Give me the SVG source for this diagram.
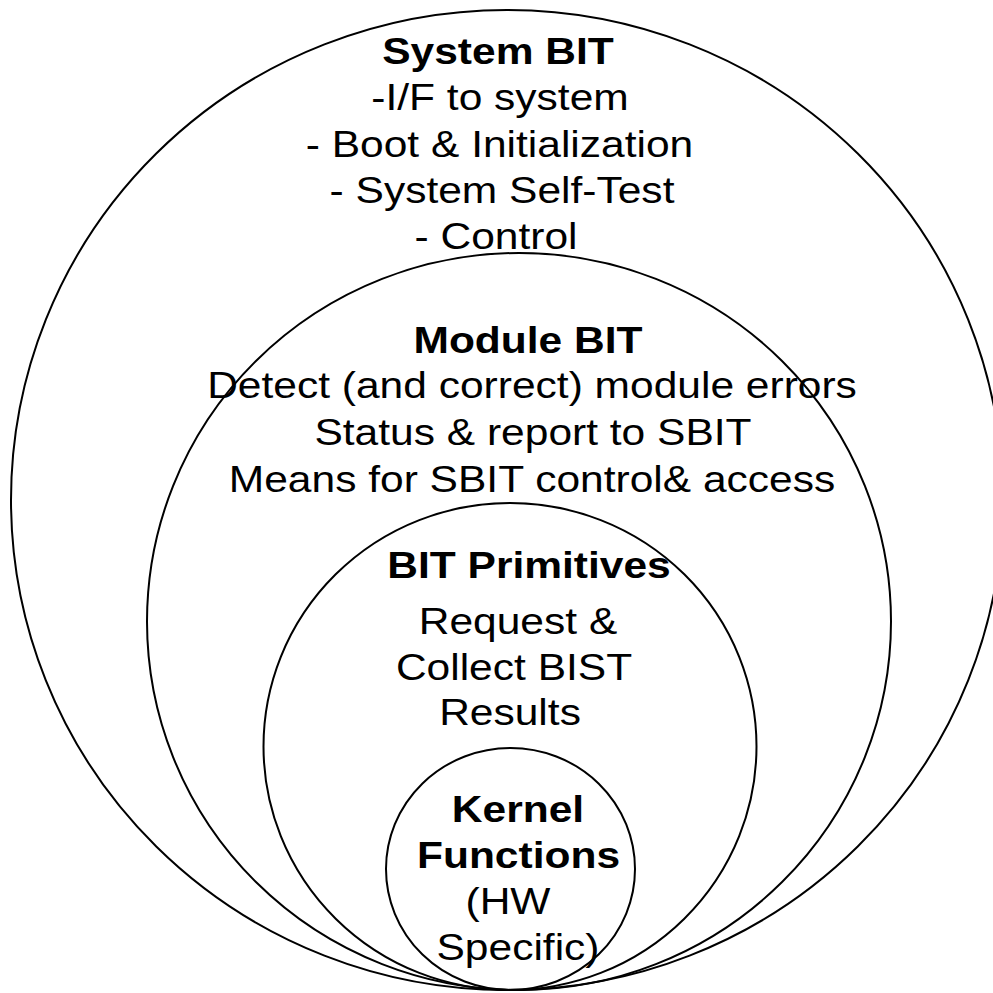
<svg xmlns="http://www.w3.org/2000/svg" width="993" height="993" viewBox="0 0 993 993">
  <style>
    .ring { fill: none; stroke: #000; stroke-width: 2; }
    .t { font-family: "Liberation Sans", Arial, sans-serif; font-size: 37.3px; fill: #000; text-anchor: middle; }
    .b { font-weight: bold; }
  </style>
  <rect width="993" height="993" fill="#fff"/>

  <!-- System BIT (outermost layer) -->
  <g id="system-bit">
    <ellipse class="ring" cx="507" cy="500" rx="496" ry="490"/>
    <g transform="translate(498 0) scale(1.14 1)"><text class="t b" x="0" y="64">System BIT</text></g>
    <g transform="translate(500 0) scale(1.14 1)"><text class="t" x="0" y="110">-I/F to system</text></g>
    <g transform="translate(499.5 0) scale(1.14 1)"><text class="t" x="0" y="157">- Boot &amp; Initialization</text></g>
    <g transform="translate(502 0) scale(1.14 1)"><text class="t" x="0" y="203">- System Self-Test</text></g>
    <g transform="translate(496 0) scale(1.14 1)"><text class="t" x="0" y="249">- Control</text></g>
  </g>

  <!-- Module BIT -->
  <g id="module-bit">
    <ellipse class="ring" cx="519" cy="621.5" rx="372" ry="368.5"/>
    <g transform="translate(528 0) scale(1.14 1)"><text class="t b" x="0" y="353">Module BIT</text></g>
    <g transform="translate(532 0) scale(1.14 1)"><text class="t" x="0" y="398">Detect (and correct) module errors</text></g>
    <g transform="translate(533 0) scale(1.14 1)"><text class="t" x="0" y="445">Status &amp; report to SBIT</text></g>
    <g transform="translate(532 0) scale(1.14 1)"><text class="t" x="0" y="492">Means for SBIT control&amp; access</text></g>
  </g>

  <!-- BIT Primitives -->
  <g id="bit-primitives">
    <ellipse class="ring" cx="510" cy="746.5" rx="246.5" ry="243.5"/>
    <g transform="translate(529 0) scale(1.14 1)"><text class="t b" x="0" y="578">BIT Primitives</text></g>
    <g transform="translate(518 0) scale(1.14 1)"><text class="t" x="0" y="634">Request &amp;</text></g>
    <g transform="translate(514 0) scale(1.14 1)"><text class="t" x="0" y="680">Collect BIST</text></g>
    <g transform="translate(510 0) scale(1.14 1)"><text class="t" x="0" y="725">Results</text></g>
  </g>

  <!-- Kernel Functions (innermost layer) -->
  <g id="kernel-functions">
    <ellipse class="ring" cx="510.5" cy="869" rx="124.5" ry="121"/>
    <g transform="translate(518 0) scale(1.14 1)"><text class="t b" x="0" y="822">Kernel</text></g>
    <g transform="translate(518.5 0) scale(1.14 1)"><text class="t b" x="0" y="868">Functions</text></g>
    <g transform="translate(508 0) scale(1.14 1)"><text class="t" x="0" y="914">(HW</text></g>
    <g transform="translate(518 0) scale(1.14 1)"><text class="t" x="0" y="960">Specific)</text></g>
  </g>

  <g id="connectors"/>
</svg>
